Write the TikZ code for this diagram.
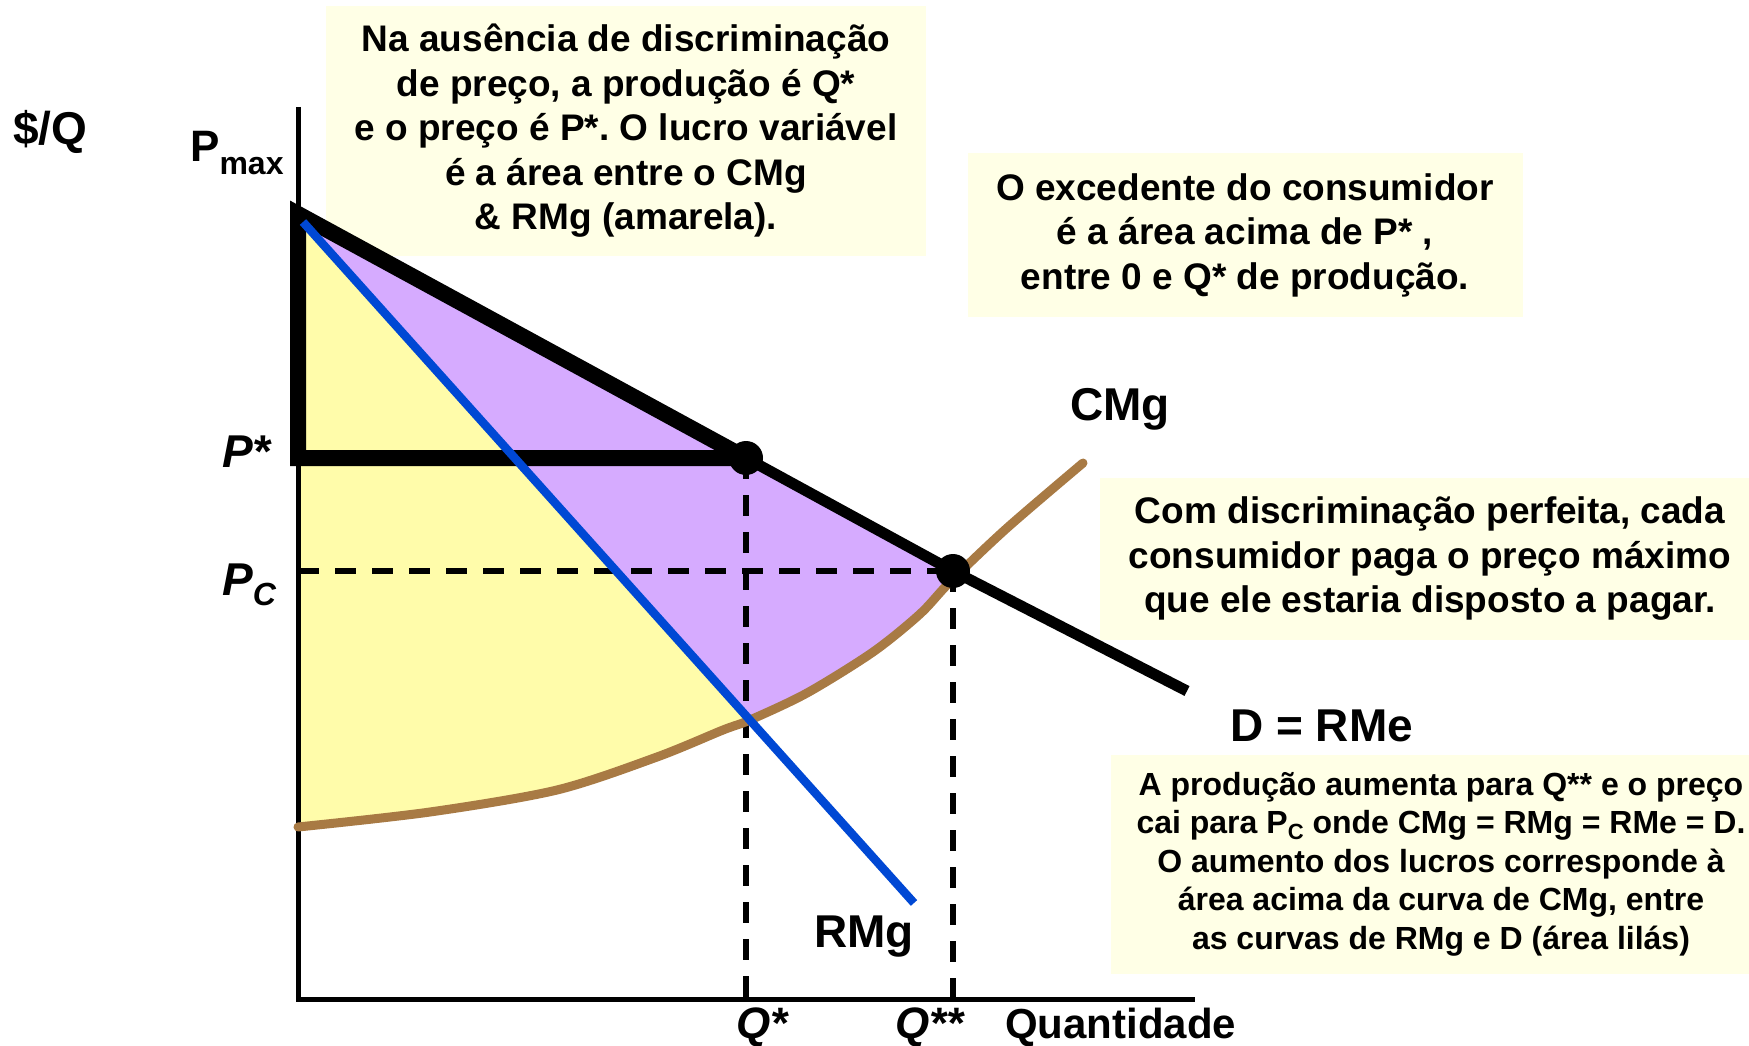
\documentclass[tikz,border=0pt]{standalone}
\usepackage{fontspec}
\setmainfont{Liberation Sans}
\frenchspacing

\definecolor{notebg}{RGB}{255,255,230}
\definecolor{yfill}{RGB}{255,252,170}
\definecolor{lilas}{RGB}{214,171,255}
\definecolor{rmgblue}{RGB}{0,72,212}
\definecolor{cmgbrown}{RGB}{168,122,68}

\begin{document}
\begin{tikzpicture}[x=1pt, y=-1pt,
    lbl/.style={font=\fontsize{46}{50}\selectfont\bfseries, inner sep=0pt, anchor=base west},
    note/.style={fill=notebg, align=center, inner sep=0pt, font=\fontsize{37}{44.5}\selectfont\bfseries},
    guide/.style={line width=6pt, dash pattern=on 21pt off 16pt}]
    \useasboundingbox (0,0) rectangle (1749,1046);

    % Notes
    \node[note, minimum width=600pt, minimum height=250pt] (nodisc) at (626,131)
        {Na ausência de discriminação\\ de preço, a produção é Q*\\ e o preço é P*. O lucro variável\\ é a área entre o CMg\\ \& RMg (amarela).};
    \node[note, minimum width=555pt, minimum height=164pt] (surplus) at (1245,235)
        {O excedente do consumidor\\ é a área acima de P* ,\\ entre 0 e Q* de produção.};
    \node[note, minimum width=660pt, minimum height=162pt] (perfect) at (1430,559)
        {Com discriminação perfeita, cada\\ consumidor paga o preço máximo\\ que ele estaria disposto a pagar.};
    \node[note, minimum width=660pt, minimum height=219pt, font=\fontsize{32}{38.5}\selectfont\bfseries] (gain) at (1441,864)
        {A produção aumenta para Q** e o preço\\ cai para P\raisebox{-6pt}{\fontsize{22}{22}\selectfont C} onde CMg = RMg = RMe = D.\\ O aumento dos lucros corresponde à\\ área acima da curva de CMg, entre\\ as curvas de RMg e D (área lilás)};

    % Points
    \coordinate (ytop) at (298,107);
    \coordinate (orig) at (298,999);
    \coordinate (xend) at (1195,999);
    \coordinate (pmax) at (298,214);
    \coordinate (pstar) at (298,458);
    \coordinate (pc) at (298,571);
    \coordinate (estar) at (746,458);
    \coordinate (ecomp) at (953,571);
    \coordinate (qstar) at (746,999);
    \coordinate (qss) at (953,999);
    \coordinate (dend) at (1187,691);
    \coordinate (rstart) at (303,222);
    \coordinate (rend) at (914,903);
    \coordinate (cross) at (750,720);

    % Areas
    \fill[yfill] (pmax) -- plot[smooth] coordinates {(298,827) (430,812) (557,790) (657,757) (723,730) (cross)} -- cycle;
    \fill[lilas] (pmax) -- (ecomp) -- plot[smooth] coordinates {(950,582) (920,614) (873,652) (807,693) (cross)} -- cycle;

    % Axes
    \draw[line width=5pt] (ytop) -- (orig) -- (xend);

    % Dashed guides
    \draw[guide] (pc) -- (ecomp);
    \draw[guide] (estar) -- (qstar);
    \draw[guide] (ecomp) -- (qss);

    % Marginal cost
    \draw[cmgbrown, line width=9pt, line cap=round] plot[smooth] coordinates {(298,827) (430,812) (557,790) (657,757) (723,730) (cross) (807,693) (873,652) (920,614) (950,582) (1007,528) (1083,463)};

    % Demand and the thick outline of the surplus
    \draw[line width=11pt] (estar) -- (ecomp) -- (dend);
    \draw[line width=16pt, line join=miter] (estar) -- (pstar) -- (pmax) -- (estar);

    % Marginal revenue
    \draw[rmgblue, line width=8.5pt] (rstart) -- (rend);

    % Equilibria
    \fill (estar) circle (17);
    \fill (ecomp) circle (17);

    % Axis labels
    \node[lbl] (dq) at (13,145) {\$/Q};
    \node[lbl, font=\fontsize{44}{50}\selectfont\bfseries] (pmaxl) at (190,162) {P\raisebox{-13pt}{\fontsize{32}{32}\selectfont max}};
    \node[lbl, font=\fontsize{46}{50}\selectfont\bfseries\itshape] (pstarl) at (222,467) {P*};
    \node[lbl, font=\fontsize{46}{50}\selectfont\bfseries\itshape] (pcl) at (222,595) {P\raisebox{-10pt}{\fontsize{32}{32}\selectfont C}};
    \node[lbl, font=\fontsize{44}{50}\selectfont\bfseries\itshape] (qstarl) at (736,1038) {Q*};
    \node[lbl, font=\fontsize{44}{50}\selectfont\bfseries\itshape] (qssl) at (895,1038) {Q**};
    \node[lbl, font=\fontsize{42}{50}\selectfont\bfseries] (quant) at (1005,1038) {Quantidade};

    % Curve labels
    \node[lbl] (cmgl) at (1070,420) {CMg};
    \node[lbl] (rmgl) at (814,947) {RMg};
    \node[lbl] (deml) at (1230,741) {D = RMe};
\end{tikzpicture}
\end{document}
